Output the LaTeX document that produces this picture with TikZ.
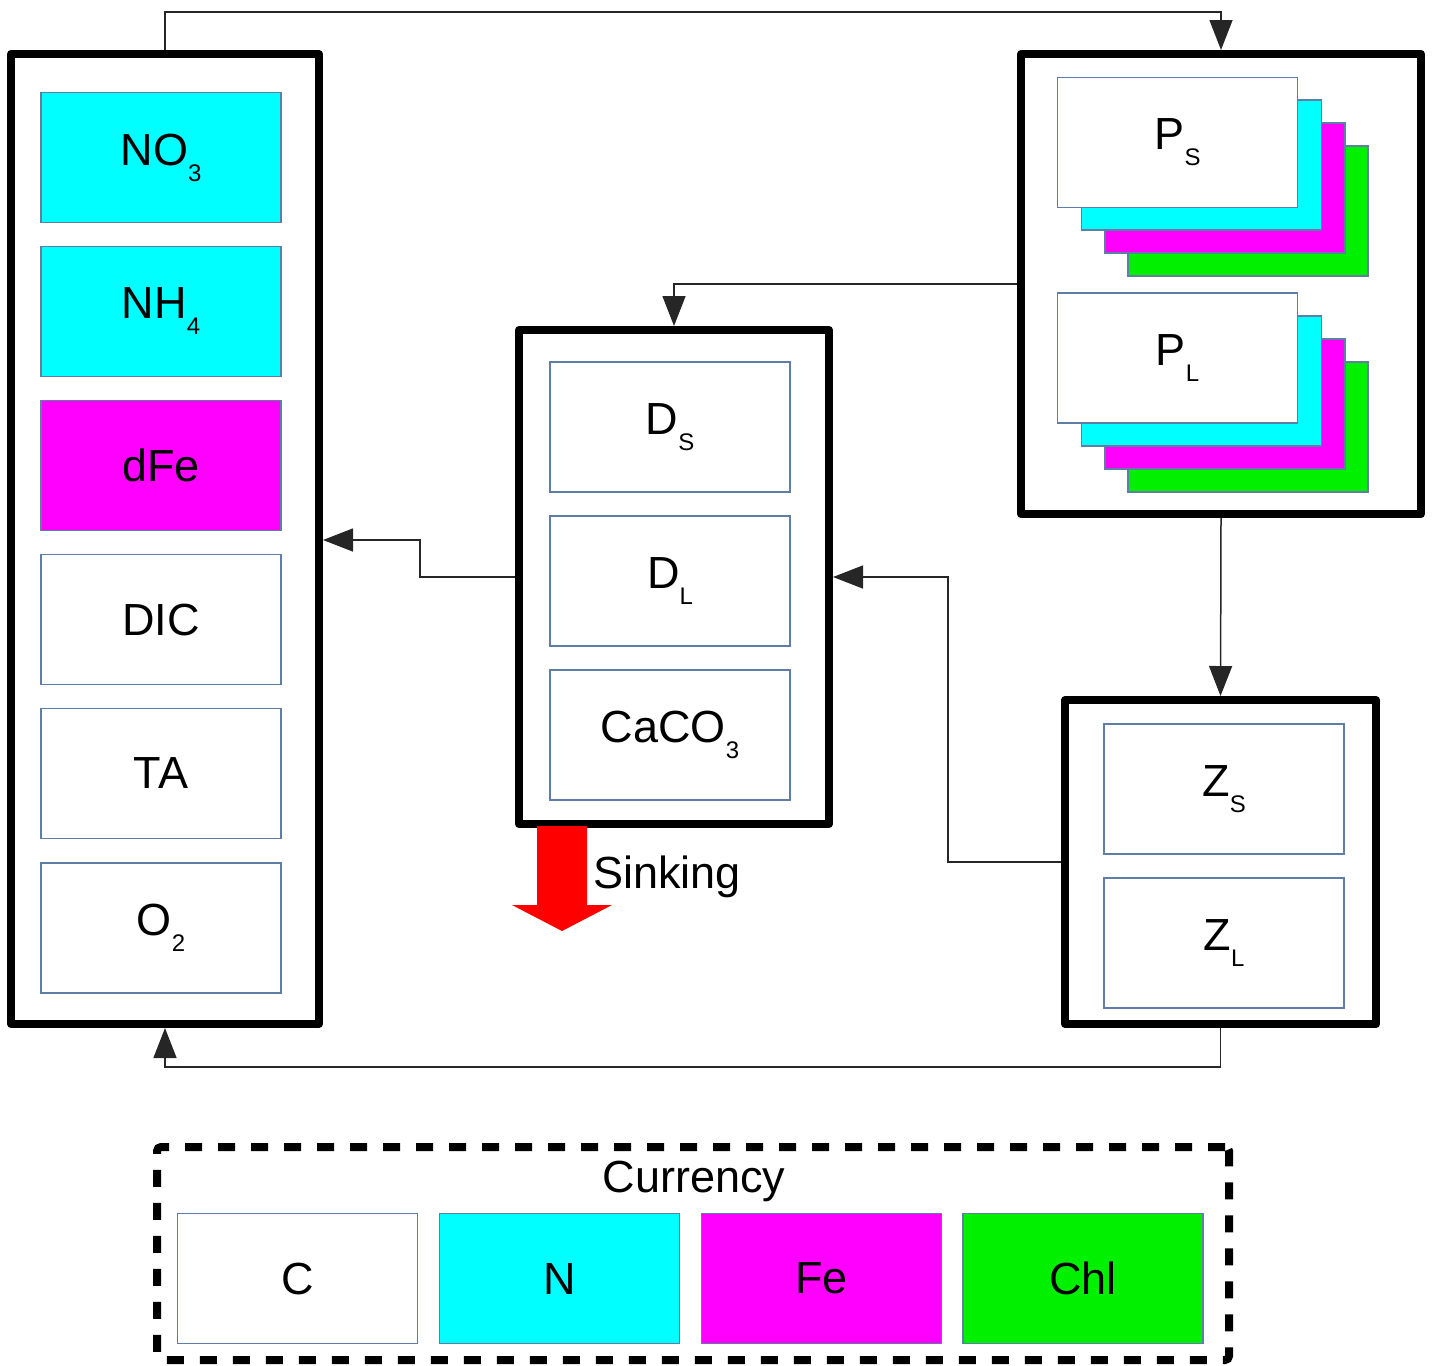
\documentclass[tikz,border=0pt]{standalone}
\usepackage{fontspec}
\setmainfont{Liberation Sans}
\usetikzlibrary{arrows.meta,calc}
\definecolor{cellborder}{RGB}{95,125,165}
\definecolor{cyn}{RGB}{0,255,255}
\definecolor{mag}{RGB}{255,0,255}
\definecolor{grn}{RGB}{0,240,0}
\newcommand\sbs[1]{\raisebox{-8pt}{\fontsize{12}{12}\selectfont #1}}
\begin{document}
\begin{tikzpicture}[x=0.5pt,y=-0.5pt,
  cell/.style={draw=cellborder, line width=0.75pt, minimum width=120pt, minimum height=65pt, inner sep=0pt, fill=white, font=\fontsize{22.5}{22.5}\selectfont},
  outer/.style={draw=black, line width=4pt, line join=round, inner sep=0pt, fill=white},
  conn/.style={draw=black!85, line width=0.75pt},
  tip/.style={-{Triangle[length=15pt,width=11.5pt]}},
  lbl/.style={font=\fontsize{22.5}{22.5}\selectfont, inner sep=0pt}
]
\useasboundingbox (0,0) rectangle (1433,1365);
% outer boxes
\node[outer, minimum width=154pt, minimum height=485pt] (L) at (165,539) {};
\node[outer, minimum width=155pt, minimum height=247pt] (D) at (674,577) {};
\node[outer, minimum width=200pt, minimum height=230pt] (P) at (1221,284) {};
\node[outer, minimum width=155.5pt, minimum height=162pt] (Z) at (1220.5,862) {};
% left cells
\node[cell, fill=cyn] (no3) at (161,157.5) {NO\sbs{3}};
\node[cell, fill=cyn] (nh4) at (161,311.5) {NH\sbs{4}};
\node[cell, fill=mag] (dfe) at (161,465.5) {dFe};
\node[cell] (dic) at (161,619.5) {DIC};
\node[cell] (ta) at (161,773.5) {TA};
\node[cell] (o2) at (161,928) {O\sbs{2}};
% detritus cells
\node[cell] (ds) at (670,427) {D\sbs{S}};
\node[cell] (dl) at (670,581) {D\sbs{L}};
\node[cell] (caco3) at (670,735) {CaCO\sbs{3}};
% phytoplankton stacks
\node[cell, fill=grn] (psg) at (1248,211) {};
\node[cell, fill=mag] (psm) at (1225,188) {};
\node[cell, fill=cyn] (psc) at (1201.5,165) {};
\node[cell] (ps) at (1177.5,142.5) {P\sbs{S}};
\node[cell, fill=grn] (plg) at (1248,427) {};
\node[cell, fill=mag] (plm) at (1225,404) {};
\node[cell, fill=cyn] (plc) at (1201.5,381) {};
\node[cell] (pl) at (1177.5,358) {P\sbs{L}};
% zooplankton cells
\node[cell] (zs) at (1224,789) {Z\sbs{S}};
\node[cell] (zl) at (1224,943) {Z\sbs{L}};
% connectors
\coordinate (topy) at (0,12);
\coordinate (boty) at (0,1067);
\coordinate (j4) at (948,862);
\coordinate (j5) at (420,540);
\draw[conn,tip] (L.north) -- (L.north |- topy) -| (P.north);
\draw[conn,tip] (P.west) -| (D.north);
\draw[conn,tip] (P.south) -- (Z.north);
\draw[conn,tip] (Z.west) -- (j4) |- (D.east);
\draw[conn,tip] (D.west) -| (j5) -- (L.east |- j5);
\draw[conn,tip] (Z.south) -- (Z.south |- boty) -| (L.south);
% sinking arrow
\fill[red] (537,826) -- (587,826) -- (587,905) -- (612,905) -- (562,931) -- (512,905) -- (537,905) -- cycle;
\node[lbl, anchor=base west] (sink) at (593,888) {Sinking};
% legend
\node[draw=black, line width=4pt, dash pattern=on 8.5pt off 8pt, rounded corners=2pt, minimum width=536pt, minimum height=106.5pt, inner sep=0pt] (leg) at (693,1253.5) {};
\node[lbl, anchor=base] (cur) at (694,1192) {Currency};
\node[cell] (lc) at (297.5,1278.5) {C};
\node[cell, fill=cyn] (ln) at (559.5,1278.5) {N};
\node[cell, fill=mag] (lfe) at (821.5,1278.5) {Fe};
\node[cell, fill=grn] (lchl) at (1083,1278.5) {Chl};
\end{tikzpicture}
\end{document}
